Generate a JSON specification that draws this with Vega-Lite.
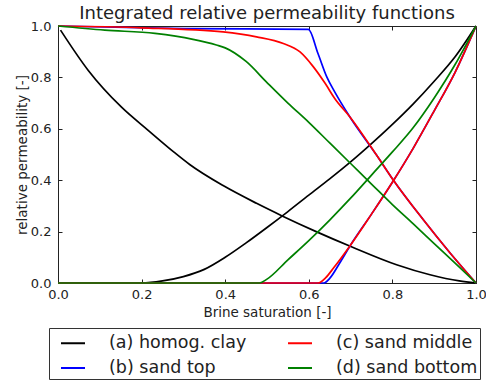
{
  "$schema": "https://vega.github.io/schema/vega-lite/v6.json",
  "width": 418,
  "height": 257,
  "autosize": {"type": "none"},
  "padding": {"left": 58, "top": 26, "right": 10, "bottom": 101},
  "background": "white",
  "config": {
    "font": "DejaVu Sans",
    "view": {"stroke": "#222", "strokeWidth": 1}
  },
  "title": {
    "text": "Integrated relative permeability functions",
    "fontSize": 18,
    "fontWeight": "normal",
    "color": "#222",
    "baseline": "alphabetic",
    "offset": 6,
    "dy": 23,
    "anchor": "middle"
  },
  "data": {
    "values": [
      {"m": "(a) homog. clay", "p": "gas", "s": 0.006, "k": 0.984},
      {"m": "(a) homog. clay", "p": "gas", "s": 0.072, "k": 0.828},
      {"m": "(a) homog. clay", "p": "gas", "s": 0.152, "k": 0.684},
      {"m": "(a) homog. clay", "p": "gas", "s": 0.215, "k": 0.595},
      {"m": "(a) homog. clay", "p": "gas", "s": 0.279, "k": 0.507},
      {"m": "(a) homog. clay", "p": "gas", "s": 0.315, "k": 0.461},
      {"m": "(a) homog. clay", "p": "gas", "s": 0.395, "k": 0.379},
      {"m": "(a) homog. clay", "p": "gas", "s": 0.475, "k": 0.31},
      {"m": "(a) homog. clay", "p": "gas", "s": 0.535, "k": 0.262},
      {"m": "(a) homog. clay", "p": "gas", "s": 0.619, "k": 0.199},
      {"m": "(a) homog. clay", "p": "gas", "s": 0.702, "k": 0.141},
      {"m": "(a) homog. clay", "p": "gas", "s": 0.81, "k": 0.071},
      {"m": "(a) homog. clay", "p": "gas", "s": 0.89, "k": 0.032},
      {"m": "(a) homog. clay", "p": "gas", "s": 0.96, "k": 0.008},
      {"m": "(a) homog. clay", "p": "gas", "s": 1.0, "k": 0.0},
      {"m": "(a) homog. clay", "p": "brine", "s": 0.0, "k": 0.0},
      {"m": "(a) homog. clay", "p": "brine", "s": 0.2, "k": 0.0},
      {"m": "(a) homog. clay", "p": "brine", "s": 0.25, "k": 0.008},
      {"m": "(a) homog. clay", "p": "brine", "s": 0.3, "k": 0.025},
      {"m": "(a) homog. clay", "p": "brine", "s": 0.35, "k": 0.053},
      {"m": "(a) homog. clay", "p": "brine", "s": 0.4, "k": 0.1},
      {"m": "(a) homog. clay", "p": "brine", "s": 0.45, "k": 0.156},
      {"m": "(a) homog. clay", "p": "brine", "s": 0.5, "k": 0.216},
      {"m": "(a) homog. clay", "p": "brine", "s": 0.55, "k": 0.278},
      {"m": "(a) homog. clay", "p": "brine", "s": 0.6, "k": 0.342},
      {"m": "(a) homog. clay", "p": "brine", "s": 0.65, "k": 0.405},
      {"m": "(a) homog. clay", "p": "brine", "s": 0.7, "k": 0.471},
      {"m": "(a) homog. clay", "p": "brine", "s": 0.75, "k": 0.542},
      {"m": "(a) homog. clay", "p": "brine", "s": 0.8, "k": 0.617},
      {"m": "(a) homog. clay", "p": "brine", "s": 0.85, "k": 0.697},
      {"m": "(a) homog. clay", "p": "brine", "s": 0.9, "k": 0.785},
      {"m": "(a) homog. clay", "p": "brine", "s": 0.95, "k": 0.88},
      {"m": "(a) homog. clay", "p": "brine", "s": 1.0, "k": 1.0},
      {"m": "(b) sand top", "p": "gas", "s": 0.0, "k": 1.0},
      {"m": "(b) sand top", "p": "gas", "s": 0.3, "k": 0.99},
      {"m": "(b) sand top", "p": "gas", "s": 0.599, "k": 0.987},
      {"m": "(b) sand top", "p": "gas", "s": 0.622, "k": 0.893},
      {"m": "(b) sand top", "p": "gas", "s": 0.643, "k": 0.802},
      {"m": "(b) sand top", "p": "gas", "s": 0.662, "k": 0.744},
      {"m": "(b) sand top", "p": "gas", "s": 0.698, "k": 0.647},
      {"m": "(b) sand top", "p": "gas", "s": 0.762, "k": 0.498},
      {"m": "(b) sand top", "p": "gas", "s": 0.802, "k": 0.401},
      {"m": "(b) sand top", "p": "gas", "s": 0.874, "k": 0.246},
      {"m": "(b) sand top", "p": "gas", "s": 0.938, "k": 0.117},
      {"m": "(b) sand top", "p": "gas", "s": 1.0, "k": 0.0},
      {"m": "(b) sand top", "p": "brine", "s": 0.0, "k": 0.0},
      {"m": "(b) sand top", "p": "brine", "s": 0.636, "k": 0.0},
      {"m": "(b) sand top", "p": "brine", "s": 0.65, "k": 0.018},
      {"m": "(b) sand top", "p": "brine", "s": 0.674, "k": 0.078},
      {"m": "(b) sand top", "p": "brine", "s": 0.7, "k": 0.148},
      {"m": "(b) sand top", "p": "brine", "s": 0.75, "k": 0.268},
      {"m": "(b) sand top", "p": "brine", "s": 0.8, "k": 0.392},
      {"m": "(b) sand top", "p": "brine", "s": 0.85, "k": 0.525},
      {"m": "(b) sand top", "p": "brine", "s": 0.9, "k": 0.67},
      {"m": "(b) sand top", "p": "brine", "s": 0.95, "k": 0.82},
      {"m": "(b) sand top", "p": "brine", "s": 1.0, "k": 1.0},
      {"m": "(c) sand middle", "p": "gas", "s": 0.0, "k": 1.0},
      {"m": "(c) sand middle", "p": "gas", "s": 0.2, "k": 0.993},
      {"m": "(c) sand middle", "p": "gas", "s": 0.395, "k": 0.977},
      {"m": "(c) sand middle", "p": "gas", "s": 0.475, "k": 0.958},
      {"m": "(c) sand middle", "p": "gas", "s": 0.539, "k": 0.932},
      {"m": "(c) sand middle", "p": "gas", "s": 0.579, "k": 0.899},
      {"m": "(c) sand middle", "p": "gas", "s": 0.611, "k": 0.841},
      {"m": "(c) sand middle", "p": "gas", "s": 0.639, "k": 0.777},
      {"m": "(c) sand middle", "p": "gas", "s": 0.662, "k": 0.718},
      {"m": "(c) sand middle", "p": "gas", "s": 0.698, "k": 0.647},
      {"m": "(c) sand middle", "p": "gas", "s": 0.762, "k": 0.498},
      {"m": "(c) sand middle", "p": "gas", "s": 0.802, "k": 0.401},
      {"m": "(c) sand middle", "p": "gas", "s": 0.874, "k": 0.246},
      {"m": "(c) sand middle", "p": "gas", "s": 0.938, "k": 0.117},
      {"m": "(c) sand middle", "p": "gas", "s": 1.0, "k": 0.0},
      {"m": "(c) sand middle", "p": "brine", "s": 0.0, "k": 0.0},
      {"m": "(c) sand middle", "p": "brine", "s": 0.622, "k": 0.0},
      {"m": "(c) sand middle", "p": "brine", "s": 0.64, "k": 0.02},
      {"m": "(c) sand middle", "p": "brine", "s": 0.66, "k": 0.06},
      {"m": "(c) sand middle", "p": "brine", "s": 0.7, "k": 0.148},
      {"m": "(c) sand middle", "p": "brine", "s": 0.75, "k": 0.268},
      {"m": "(c) sand middle", "p": "brine", "s": 0.8, "k": 0.392},
      {"m": "(c) sand middle", "p": "brine", "s": 0.85, "k": 0.525},
      {"m": "(c) sand middle", "p": "brine", "s": 0.9, "k": 0.67},
      {"m": "(c) sand middle", "p": "brine", "s": 0.95, "k": 0.82},
      {"m": "(c) sand middle", "p": "brine", "s": 1.0, "k": 1.0},
      {"m": "(d) sand bottom", "p": "gas", "s": 0.0, "k": 1.0},
      {"m": "(d) sand bottom", "p": "gas", "s": 0.112, "k": 0.984},
      {"m": "(d) sand bottom", "p": "gas", "s": 0.232, "k": 0.971},
      {"m": "(d) sand bottom", "p": "gas", "s": 0.323, "k": 0.948},
      {"m": "(d) sand bottom", "p": "gas", "s": 0.379, "k": 0.926},
      {"m": "(d) sand bottom", "p": "gas", "s": 0.4, "k": 0.915},
      {"m": "(d) sand bottom", "p": "gas", "s": 0.45, "k": 0.862},
      {"m": "(d) sand bottom", "p": "gas", "s": 0.5, "k": 0.78},
      {"m": "(d) sand bottom", "p": "gas", "s": 0.55, "k": 0.7},
      {"m": "(d) sand bottom", "p": "gas", "s": 0.6, "k": 0.625},
      {"m": "(d) sand bottom", "p": "gas", "s": 0.65, "k": 0.545},
      {"m": "(d) sand bottom", "p": "gas", "s": 0.7, "k": 0.465},
      {"m": "(d) sand bottom", "p": "gas", "s": 0.75, "k": 0.385},
      {"m": "(d) sand bottom", "p": "gas", "s": 0.8, "k": 0.305},
      {"m": "(d) sand bottom", "p": "gas", "s": 0.85, "k": 0.23},
      {"m": "(d) sand bottom", "p": "gas", "s": 0.9, "k": 0.153},
      {"m": "(d) sand bottom", "p": "gas", "s": 0.95, "k": 0.077},
      {"m": "(d) sand bottom", "p": "gas", "s": 1.0, "k": 0.0},
      {"m": "(d) sand bottom", "p": "brine", "s": 0.0, "k": 0.0},
      {"m": "(d) sand bottom", "p": "brine", "s": 0.482, "k": 0.0},
      {"m": "(d) sand bottom", "p": "brine", "s": 0.5, "k": 0.015},
      {"m": "(d) sand bottom", "p": "brine", "s": 0.55, "k": 0.09},
      {"m": "(d) sand bottom", "p": "brine", "s": 0.6, "k": 0.165},
      {"m": "(d) sand bottom", "p": "brine", "s": 0.65, "k": 0.245},
      {"m": "(d) sand bottom", "p": "brine", "s": 0.7, "k": 0.33},
      {"m": "(d) sand bottom", "p": "brine", "s": 0.75, "k": 0.42},
      {"m": "(d) sand bottom", "p": "brine", "s": 0.8, "k": 0.51},
      {"m": "(d) sand bottom", "p": "brine", "s": 0.85, "k": 0.605},
      {"m": "(d) sand bottom", "p": "brine", "s": 0.9, "k": 0.72},
      {"m": "(d) sand bottom", "p": "brine", "s": 0.95, "k": 0.85},
      {"m": "(d) sand bottom", "p": "brine", "s": 1.0, "k": 1.0}
    ]
  },
  "layer": [
    {
      "mark": {"type": "line", "strokeWidth": 1.7, "interpolate": "monotone"},
      "encoding": {
        "x": {
          "field": "s", "type": "quantitative",
          "scale": {"domain": [0, 1], "nice": false},
          "axis": {
            "orient": "bottom", "title": "Brine saturation [-]",
            "values": [0, 0.2, 0.4, 0.6, 0.8, 1.0], "format": ".1f",
            "grid": false, "domainColor": "#222", "tickColor": "#222",
            "tickSize": -4, "labelPadding": 9, "labelFlush": false, "labelOverlap": false,
            "labelFontSize": 13, "labelColor": "#222",
            "titleFontSize": 13.5, "titleFontWeight": "normal", "titleColor": "#222", "titlePadding": 4
          }
        },
        "y": {
          "field": "k", "type": "quantitative",
          "scale": {"domain": [0, 1], "nice": false},
          "axis": {
            "orient": "left", "title": "relative permeability [-]",
            "values": [0, 0.2, 0.4, 0.6, 0.8, 1.0], "format": ".1f",
            "grid": false, "domainColor": "#222", "tickColor": "#222",
            "tickSize": -4, "labelPadding": 11, "labelFlush": false, "labelOverlap": false,
            "labelFontSize": 13, "labelColor": "#222",
            "titleFontSize": 13.5, "titleFontWeight": "normal", "titleColor": "#222", "titlePadding": 1
          }
        },
        "color": {
          "field": "m", "type": "nominal",
          "scale": {
            "domain": ["(a) homog. clay", "(b) sand top", "(c) sand middle", "(d) sand bottom"],
            "range": ["#000000", "#0000ff", "#ff0000", "#008000"]
          },
          "legend": {
            "orient": "none", "legendX": -9, "legendY": 302,
            "title": null, "columns": 2, "direction": "vertical",
            "symbolType": "stroke", "symbolStrokeWidth": 2, "symbolSize": 576,
            "symbolOffset": 9,
            "labelFontSize": 17.5, "labelColor": "#222", "labelOffset": 23, "labelLimit": 300,
            "columnPadding": 31, "rowPadding": 3,
            "strokeColor": "#333", "padding": 2
          }
        },
        "detail": {"field": "p", "type": "nominal"}
      }
    },
    {
      "mark": {"type": "line", "strokeOpacity": 0},
      "encoding": {
        "x": {
          "field": "s", "type": "quantitative",
          "axis": {
            "orient": "top", "title": null, "labels": false, "grid": false,
            "values": [0, 0.2, 0.4, 0.6, 0.8, 1.0], "domain": false,
            "tickColor": "#222", "tickSize": -4, "minExtent": 0, "maxExtent": 0
          }
        },
        "y": {
          "field": "k", "type": "quantitative",
          "axis": {
            "orient": "right", "title": null, "labels": false, "grid": false,
            "values": [0, 0.2, 0.4, 0.6, 0.8, 1.0], "domain": false,
            "tickColor": "#222", "tickSize": -4, "minExtent": 0, "maxExtent": 0
          }
        },
        "detail": {"field": "p", "type": "nominal"}
      }
    }
  ],
  "resolve": {"axis": {"x": "independent", "y": "independent"}}
}
